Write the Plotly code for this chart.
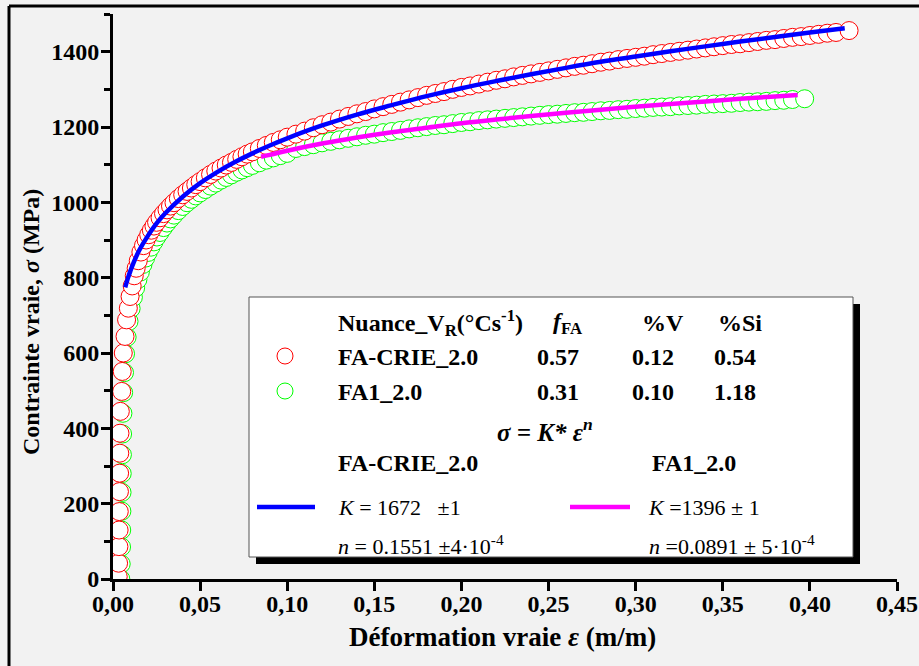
import plotly.graph_objects as go

# ---------------- data ----------------
x_ticks = [0.00, 0.05, 0.10, 0.15, 0.20, 0.25, 0.30, 0.35, 0.40, 0.45]
x_tick_labels = ["0,00", "0,05", "0,10", "0,15", "0,20", "0,25", "0,30", "0,35", "0,40", "0,45"]
y_ticks = [0, 200, 400, 600, 800, 1000, 1200, 1400]
y_tick_labels = ["0", "200", "400", "600", "800", "1000", "1200", "1400"]

# FA-CRIE_2.0 measured (red circles)
red_strain = [0.0030, 0.0032, 0.0034, 0.0035, 0.0036, 0.0037, 0.0038, 0.0039, 0.0040, 0.0042,
              0.0050, 0.0053, 0.0059, 0.0069, 0.0078, 0.0088, 0.0098, 0.0110, 0.0122, 0.0133,
              0.0145, 0.016, 0.0175, 0.019, 0.0205, 0.022, 0.0235, 0.025, 0.027, 0.029,
              0.031, 0.033, 0.035, 0.0375, 0.04, 0.0425, 0.045, 0.0475, 0.05, 0.053,
              0.056, 0.059, 0.062, 0.065, 0.068, 0.071, 0.074, 0.077, 0.08, 0.084,
              0.088, 0.092, 0.096, 0.10,
              0.105, 0.11, 0.115, 0.12, 0.125, 0.13, 0.135, 0.14, 0.145, 0.15,
              0.155, 0.16, 0.165, 0.17, 0.175, 0.18, 0.185, 0.19, 0.195, 0.20,
              0.205, 0.21, 0.215, 0.22, 0.225, 0.23, 0.235, 0.24, 0.245, 0.25,
              0.255, 0.26, 0.265, 0.27, 0.275, 0.28, 0.285, 0.29, 0.295, 0.30,
              0.305, 0.31, 0.315, 0.32, 0.325, 0.33, 0.335, 0.34, 0.345, 0.35,
              0.355, 0.36, 0.365, 0.37, 0.375, 0.38, 0.385, 0.39, 0.395, 0.40,
              0.405, 0.41, 0.415, 0.4225]
red_stress = [6, 42, 86, 130, 179, 232, 281, 334, 387, 445,
              498, 551, 600, 644, 688, 719, 750, 778, 805, 825,
              845, 868, 885, 900, 914, 926, 937, 947, 959, 970,
              980, 990, 999, 1010, 1020, 1029, 1038, 1047, 1055, 1065,
              1074, 1083, 1091, 1099, 1106, 1114, 1121, 1128, 1134, 1143,
              1151, 1159, 1166, 1173,
              1181, 1189, 1198, 1206, 1213, 1221, 1228, 1235, 1241, 1248,
              1254, 1260, 1266, 1272, 1278, 1284, 1289, 1294, 1300, 1305,
              1309, 1314, 1319, 1324, 1328, 1333, 1337, 1341, 1345, 1349,
              1353, 1357, 1361, 1364, 1368, 1372, 1375, 1379, 1382, 1385,
              1388, 1392, 1395, 1398, 1401, 1404, 1407, 1410, 1413, 1416,
              1419, 1421, 1424, 1427, 1430, 1432, 1435, 1438, 1440, 1443,
              1446, 1449, 1451, 1456]

# FA1_2.0 measured (green circles)
green_strain = [0.0045, 0.0047, 0.0049, 0.0050, 0.0051, 0.0052, 0.0053, 0.0054, 0.0055, 0.0057,
                0.0061, 0.0066, 0.0072, 0.0081, 0.0092, 0.0104, 0.0117, 0.0130, 0.0143, 0.0157,
                0.0172, 0.0187, 0.0202, 0.0218, 0.0235, 0.0252, 0.027, 0.029, 0.031, 0.033,
                0.035, 0.0375, 0.04, 0.0425, 0.045, 0.0475, 0.05, 0.053, 0.056, 0.059,
                0.062, 0.065, 0.068, 0.071, 0.074, 0.077, 0.08, 0.084, 0.088, 0.092,
                0.096, 0.10,
                0.105, 0.11, 0.115, 0.12, 0.125, 0.13, 0.135, 0.14, 0.145, 0.15,
                0.155, 0.16, 0.165, 0.17, 0.175, 0.18, 0.185, 0.19, 0.195, 0.20,
                0.205, 0.21, 0.215, 0.22, 0.225, 0.23, 0.235, 0.24, 0.245, 0.25,
                0.255, 0.26, 0.265, 0.27, 0.275, 0.28, 0.285, 0.29, 0.295, 0.30,
                0.305, 0.31, 0.315, 0.32, 0.325, 0.33, 0.335, 0.34, 0.345, 0.35,
                0.355, 0.36, 0.365, 0.37, 0.375, 0.38, 0.385, 0.39, 0.397]
green_stress = [0, 40, 85, 130, 180, 230, 280, 330, 385, 440,
                495, 548, 598, 642, 684, 718, 748, 773, 795, 815,
                835, 852, 867, 881, 895, 908, 920, 933, 945, 956,
                966, 978, 989, 999, 1008, 1017, 1025, 1034, 1043, 1051,
                1059, 1066, 1073, 1080, 1086, 1092, 1098, 1105, 1112, 1118,
                1124, 1130,
                1143, 1148, 1153, 1158, 1162, 1166, 1170, 1174, 1178, 1181,
                1185, 1188, 1191, 1195, 1198, 1201, 1204, 1206, 1209, 1212,
                1214, 1217, 1219, 1221, 1223, 1225, 1227, 1229, 1231, 1233,
                1234, 1236, 1238, 1239, 1241, 1243, 1244, 1246, 1247, 1249,
                1250, 1252, 1253, 1254, 1256, 1257, 1258, 1260, 1261, 1262,
                1263, 1265, 1266, 1267, 1268, 1270, 1271, 1273, 1275]

# Hollomon fits (lines)
fit_red_strain = [0.007, 0.0085, 0.010, 0.012, 0.015, 0.02, 0.025, 0.03, 0.04, 0.05, 0.06, 0.07,
                  0.08, 0.09, 0.10, 0.12, 0.14, 0.16, 0.18, 0.20, 0.22, 0.24, 0.26, 0.28, 0.30,
                  0.32, 0.34, 0.36, 0.38, 0.40, 0.42]
fit_red_stress = [774, 798, 818, 842, 872, 911, 944, 971, 1015, 1051, 1081, 1107,
                  1130, 1151, 1170, 1204, 1233, 1258, 1282, 1303, 1322, 1340, 1357, 1373, 1387,
                  1401, 1414, 1427, 1439, 1451, 1462]
fit_green_strain = [0.085, 0.09, 0.10, 0.12, 0.14, 0.16, 0.18, 0.20, 0.22, 0.24, 0.26, 0.28,
                    0.30, 0.32, 0.34, 0.36, 0.38, 0.393]
fit_green_stress = [1121, 1126, 1137, 1156, 1172, 1186, 1198, 1210, 1220, 1229, 1238, 1246,
                    1254, 1261, 1268, 1275, 1281, 1285]

# legend table
grades = ["FA-CRIE_2.0", "FA1_2.0"]
f_FA = ["0.57", "0.31"]
pct_V = ["0.12", "0.10"]
pct_Si = ["0.54", "1.18"]
K_text = ["<i>K</i> = 1672\u00a0\u00a0\u00a0±1", "<i>K</i> =1396 ± 1"]
n_text = ["<i>n</i> = 0.1551 ±4·10<sup>-4</sup>", "<i>n</i> =0.0891 ± 5·10<sup>-4</sup>"]

# ---------------- geometry ----------------
W, H = 919, 666
L, R, T, B = 113, 22, 14, 87
PW, PH = W - L - R, H - T - B
FONT = "Liberation Serif, Times New Roman, Times, serif"


def px(x):
    return (x - L) / PW


def py(y):
    return (H - B - y) / PH


fig = go.Figure()

fig.add_trace(go.Scatter(
    x=green_strain, y=green_stress, mode="markers",
    marker=dict(symbol="circle", size=18, color="white", line=dict(color="#00ff00", width=1)),
    showlegend=False))
fig.add_trace(go.Scatter(
    x=red_strain, y=red_stress, mode="markers",
    marker=dict(symbol="circle", size=18, color="white", line=dict(color="#ff0000", width=1)),
    showlegend=False))
fig.add_trace(go.Scatter(
    x=fit_green_strain, y=fit_green_stress, mode="lines",
    line=dict(color="#ff00ff", width=4.5, shape="spline"), showlegend=False))
fig.add_trace(go.Scatter(
    x=fit_red_strain, y=fit_red_stress, mode="lines",
    line=dict(color="#0000ff", width=4.5, shape="spline"), showlegend=False))

shapes = []
# outer frame (left + top)
shapes.append(dict(type="line", xref="paper", yref="paper", x0=px(9), x1=px(919), y0=py(6), y1=py(6),
                   line=dict(color="black", width=3)))
shapes.append(dict(type="line", xref="paper", yref="paper", x0=px(9), x1=px(9), y0=py(6), y1=py(666),
                   line=dict(color="black", width=3)))
# legend shadow + box
shapes.append(dict(type="rect", xref="paper", yref="paper", x0=px(256), x1=px(860), y0=py(304), y1=py(564),
                   fillcolor="black", line=dict(width=0)))
shapes.append(dict(type="rect", xref="paper", yref="paper", x0=px(249), x1=px(853), y0=py(297), y1=py(557),
                   fillcolor="white", line=dict(color="#555555", width=1)))
# legend keys
shapes.append(dict(type="circle", xref="paper", yref="paper", x0=px(277), x1=px(293), y0=py(348), y1=py(364),
                   fillcolor="white", line=dict(color="#ff0000", width=1)))
shapes.append(dict(type="circle", xref="paper", yref="paper", x0=px(277), x1=px(293), y0=py(383), y1=py(399),
                   fillcolor="white", line=dict(color="#00ff00", width=1)))
shapes.append(dict(type="line", xref="paper", yref="paper", x0=px(257), x1=px(315), y0=py(507), y1=py(507),
                   line=dict(color="#0000ff", width=4.5)))
shapes.append(dict(type="line", xref="paper", yref="paper", x0=px(570), x1=px(630), y0=py(507), y1=py(507),
                   line=dict(color="#ff00ff", width=4.5)))

ann = []


def text(x, y, s, size=24, xanchor="left", angle=0):
    ann.append(dict(x=px(x), y=py(y), xref="paper", yref="paper", text=s, showarrow=False,
                    xanchor=xanchor, yanchor="middle", textangle=angle,
                    font=dict(family=FONT, size=size, color="black")))


# legend header
text(336, 323, "<b>Nuance_V<sub>R</sub>(°Cs<sup>-1</sup>)</b>")
text(551, 323, "<b><i>f</i><sub>FA</sub></b>")
text(640, 323, "<b>%V</b>")
text(716, 323, "<b>%Si</b>")
for i, yy in enumerate([357, 392]):
    text(336, yy, "<b>%s</b>" % grades[i])
    text(535, yy, "<b>%s</b>" % f_FA[i])
    text(630, yy, "<b>%s</b>" % pct_V[i])
    text(712, yy, "<b>%s</b>" % pct_Si[i])
text(545, 430, "<b><i>σ = K* ε<sup>n</sup></i></b>", size=25, xanchor="center")
text(336, 463, "<b>%s</b>" % grades[0])
text(650, 463, "<b>%s</b>" % grades[1])
text(336, 507, K_text[0], size=22)
text(646, 507, K_text[1], size=22)
text(336, 545, n_text[0], size=22)
text(647, 545, n_text[1], size=22)

# axis titles
text(502, 637, "<b>Déformation vraie <i>ε</i> (m/m)</b>", size=27, xanchor="center")
text(31, 322, "<b>Contrainte vraie, <i>σ</i> (MPa)</b>", size=24, xanchor="center", angle=-90)

fig.update_layout(
    width=W, height=H, autosize=False,
    margin=dict(l=L, r=R, t=T, b=B, pad=0),
    paper_bgcolor="#f2f2f2", plot_bgcolor="#f2f2f2",
    shapes=shapes, annotations=ann,
    font=dict(family=FONT, color="black"),
)
fig.update_xaxes(
    range=[0, 0.45], tickmode="array", tickvals=x_ticks,
    ticktext=["<b>%s</b>" % t for t in x_tick_labels],
    showgrid=False, zeroline=False, showline=True, linecolor="black", linewidth=3,
    ticks="outside", ticklen=9, tickwidth=3, tickcolor="black", automargin=False,
    ticklabelstandoff=-8,
    tickfont=dict(family=FONT, size=24, color="black"),
)
fig.update_yaxes(
    range=[0, 1500], tickmode="array", tickvals=y_ticks,
    ticktext=["<b>%s</b>" % t for t in y_tick_labels],
    showgrid=False, zeroline=False, showline=True, linecolor="black", linewidth=3,
    ticks="outside", ticklen=9, tickwidth=3, tickcolor="black", automargin=False,
    ticklabelstandoff=-3,
    tickfont=dict(family=FONT, size=24, color="black"),
    minor=dict(tickmode="linear", tick0=0, dtick=100, ticks="outside", ticklen=6, tickwidth=3, tickcolor="black"),
)

fig.write_html("out.html", config={"displayModeBar": False},
               post_script="document.body.style.margin='0';document.body.style.overflow='hidden';")
